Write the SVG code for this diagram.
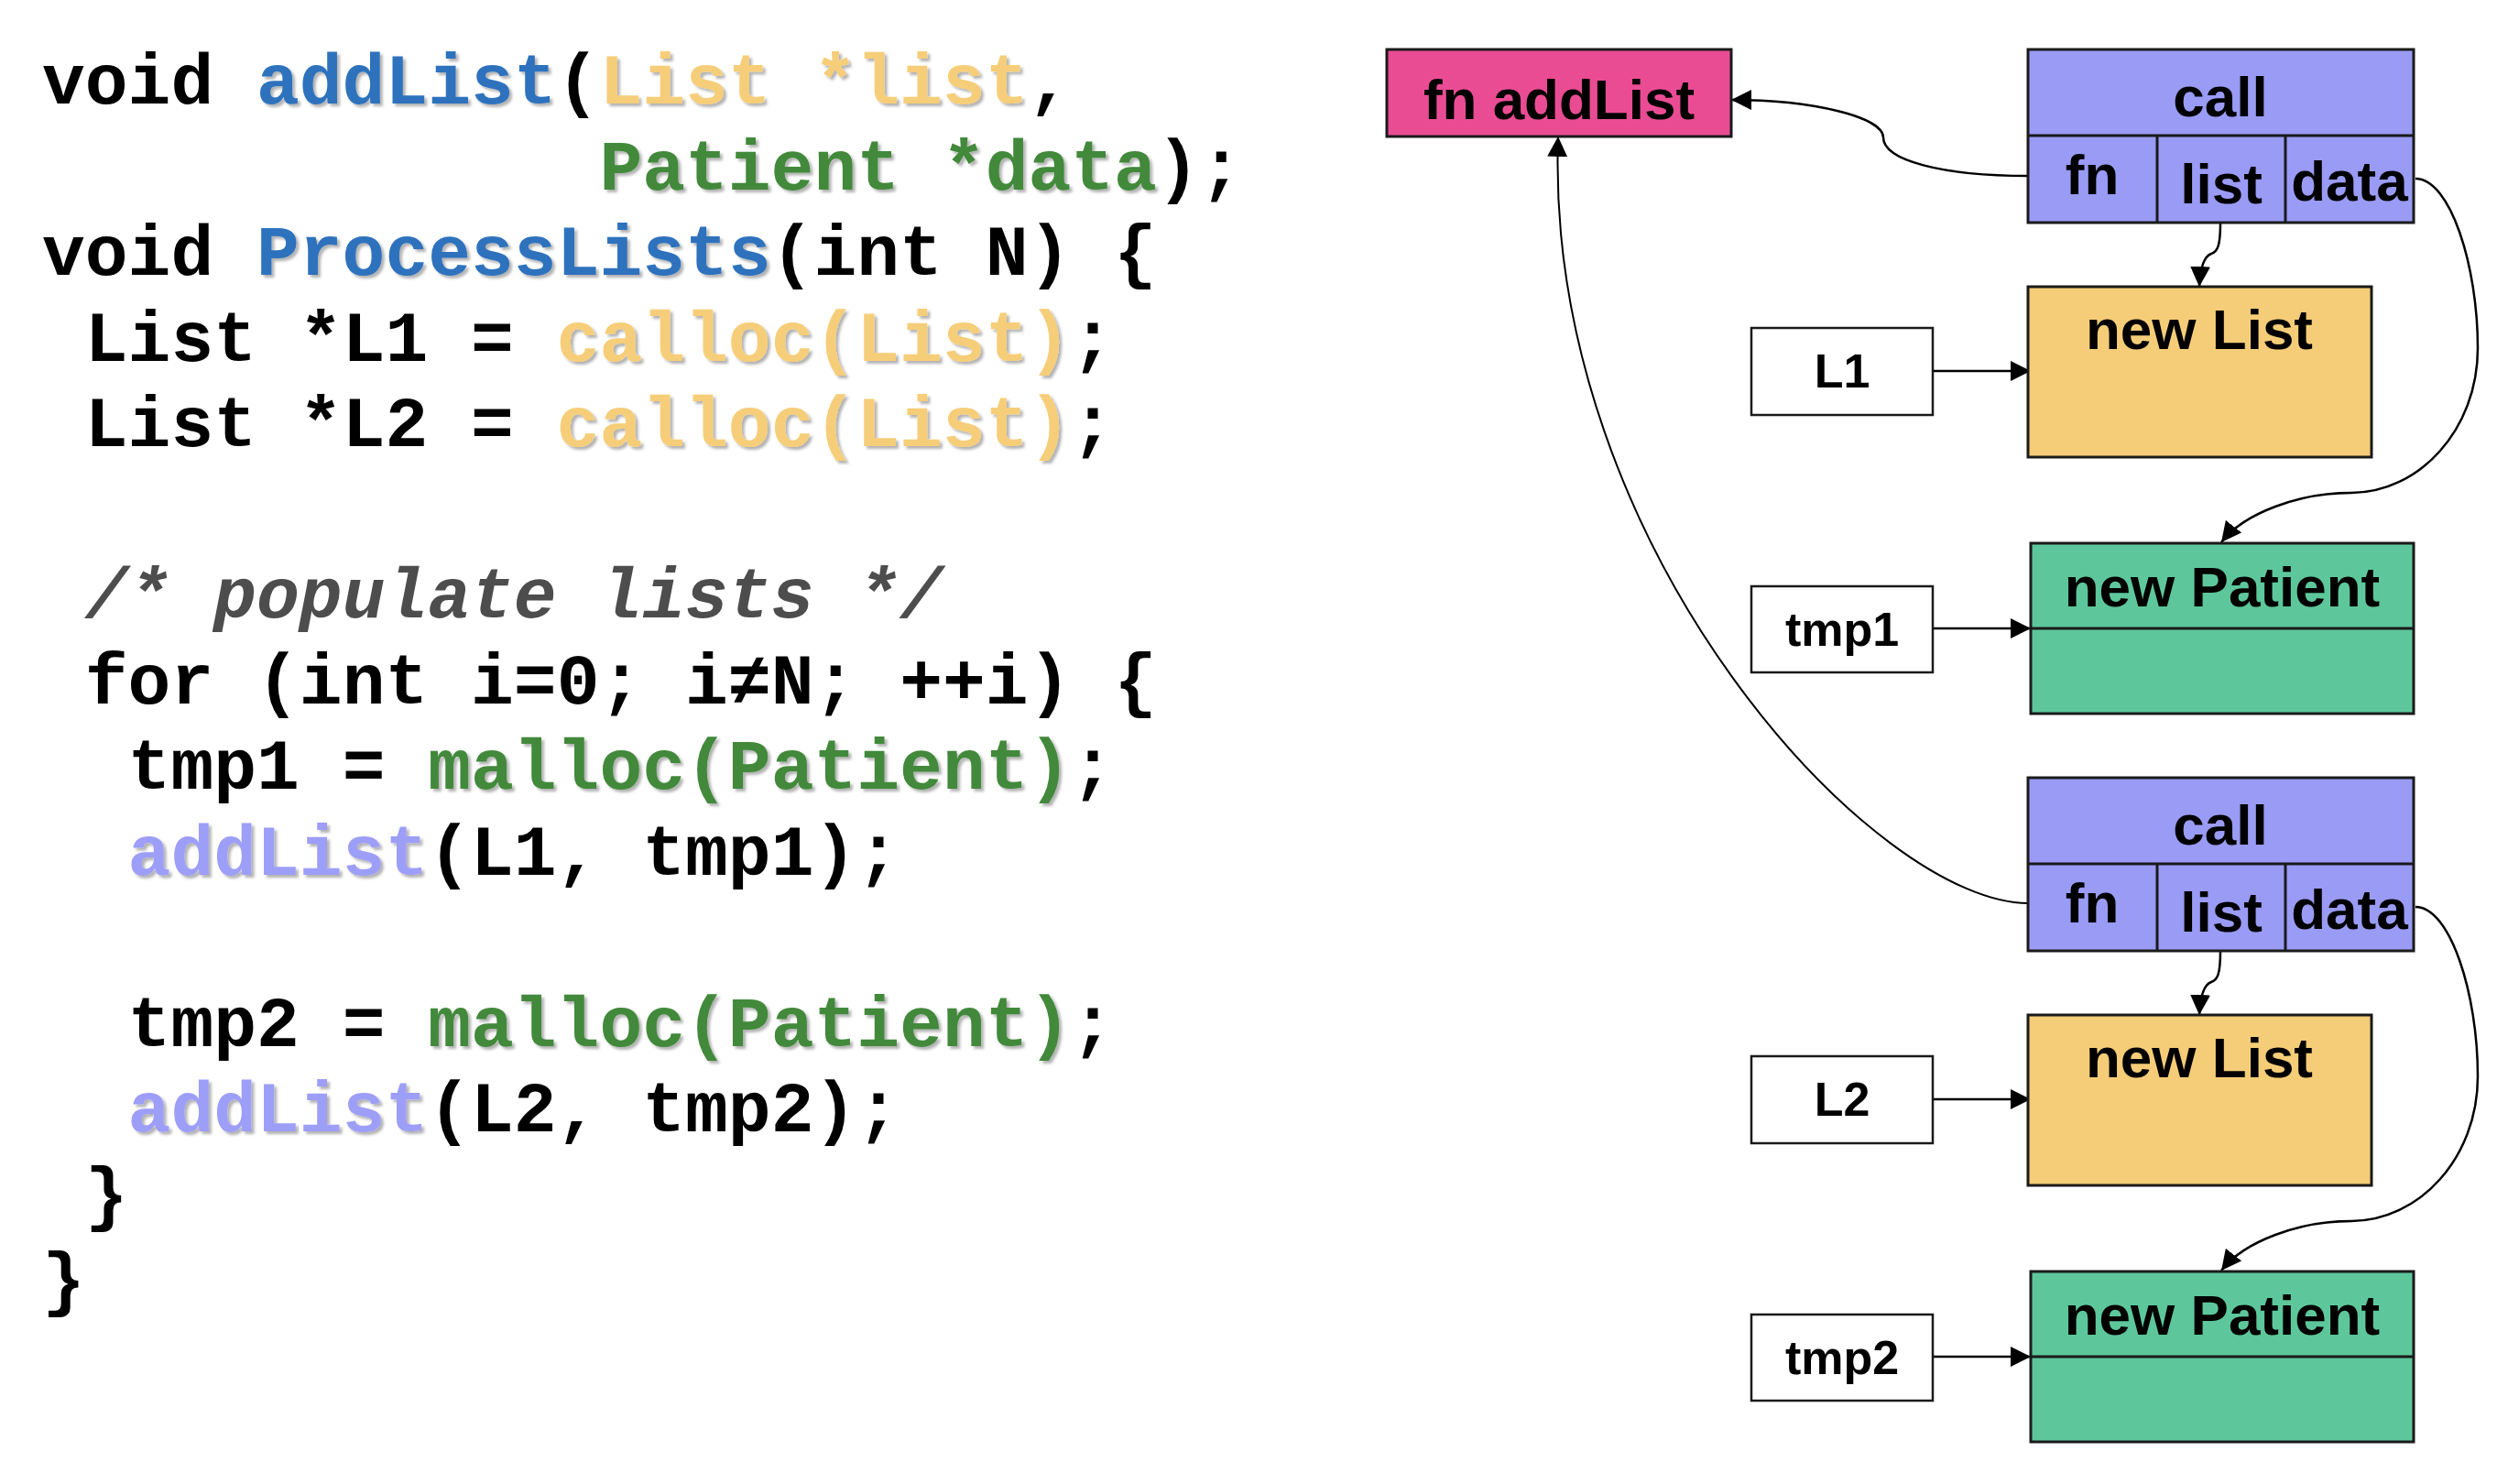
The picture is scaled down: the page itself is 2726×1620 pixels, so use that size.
<svg xmlns="http://www.w3.org/2000/svg" width="2726" height="1620" viewBox="0 0 2726 1620">
<defs>
<style>
.code{font-family:"Liberation Mono","Courier New",monospace;font-weight:bold;font-size:78px;fill:#000}
.blue{fill:#2e72bd}
.yel{fill:#f6cd79}
.grn{fill:#42893b}
.lav{fill:#9d9ef7}
.cmt{fill:#4d4d4d;font-style:italic}
.lbl{font-family:"Liberation Sans",Arial,sans-serif;font-weight:bold;font-size:62px;fill:#000;text-anchor:middle}
.sm{font-size:52px}
.box{stroke:#1a1a1a;stroke-width:3}
.var{fill:#fff;stroke:#1a1a1a;stroke-width:2.5}
.edge{fill:none;stroke:#000;stroke-width:2.5}
.thin{stroke-width:2}
</style>
<filter id="sh" x="-5%" y="-20%" width="110%" height="140%">
<feDropShadow dx="3" dy="3" stdDeviation="1.5" flood-color="#000" flood-opacity="0.3"/>
</filter>
<marker id="ah" viewBox="0 0 22 22" refX="22" refY="11" markerWidth="22" markerHeight="22" orient="auto" markerUnits="userSpaceOnUse">
<path d="M0,0 L22,11 L0,22 z" fill="#000"/>
</marker>
</defs>
<rect width="2726" height="1620" fill="#fff"/>

<g id="code">
<text class="code" x="46" y="113">void</text>
<text class="code blue" filter="url(#sh)" x="280" y="113">addList</text>
<text class="code" x="607.6" y="113">(</text>
<text class="code yel" filter="url(#sh)" x="654.4" y="113">List *list</text>
<text class="code" x="1122.4" y="113">,</text>

<text class="code grn" filter="url(#sh)" x="654.4" y="206.5">Patient *data</text>
<text class="code" x="1262.8" y="206.5">);</text>

<text class="code" x="46" y="300">void</text>
<text class="code blue" filter="url(#sh)" x="280" y="300">ProcessLists</text>
<text class="code" x="841.6" y="300">(int N) {</text>

<text class="code" x="92.8" y="393.5">List *L1 =</text>
<text class="code yel" filter="url(#sh)" x="607.6" y="393.5">calloc(List)</text>
<text class="code" x="1169.2" y="393.5">;</text>

<text class="code" x="92.8" y="487">List *L2 =</text>
<text class="code yel" filter="url(#sh)" x="607.6" y="487">calloc(List)</text>
<text class="code" x="1169.2" y="487">;</text>

<text class="code cmt" x="92.8" y="674">/* populate lists */</text>
<text class="code" x="92.8" y="767.5">for (int i=0; i≠N; ++i) {</text>

<text class="code" x="139.6" y="861">tmp1 =</text>
<text class="code grn" filter="url(#sh)" x="467.2" y="861">malloc(Patient)</text>
<text class="code" x="1169.2" y="861">;</text>

<text class="code lav" filter="url(#sh)" x="139.6" y="954.5">addList</text>
<text class="code" x="467.2" y="954.5">(L1, tmp1);</text>

<text class="code" x="139.6" y="1141.5">tmp2 =</text>
<text class="code grn" filter="url(#sh)" x="467.2" y="1141.5">malloc(Patient)</text>
<text class="code" x="1169.2" y="1141.5">;</text>

<text class="code lav" filter="url(#sh)" x="139.6" y="1235">addList</text>
<text class="code" x="467.2" y="1235">(L2, tmp2);</text>

<text class="code" x="92.8" y="1328.5">}</text>
<text class="code" x="46" y="1422">}</text>
</g>

<g id="connectors">
<path class="edge" d="M2214,192 C2120,192 2056,175 2056,150 C2056,128 1980,109 1890,109" marker-end="url(#ah)"/>
<path class="edge" d="M2424,243 C2424,268 2421,275 2414,277 C2406,280 2402,292 2401,313" marker-end="url(#ah)"/>
<path class="edge" d="M2637,195 C2675,195 2705,290 2705,380 C2705,470 2640,538 2567,538 C2510,538 2450,560 2425,592" marker-end="url(#ah)"/>
<path class="edge" d="M2110,405 L2217,405" marker-end="url(#ah)"/>
<path class="edge" d="M2110,686 L2217,686" marker-end="url(#ah)"/>
<path class="edge thin" d="M2217,986 C2050,990 1685,600 1701,149" marker-end="url(#ah)"/>
<path class="edge" d="M2424,1038 C2424,1063 2421,1070 2414,1072 C2406,1075 2402,1087 2401,1108" marker-end="url(#ah)"/>
<path class="edge" d="M2637,990 C2675,990 2705,1085 2705,1175 C2705,1265 2640,1333 2567,1333 C2510,1333 2450,1355 2425,1387" marker-end="url(#ah)"/>
<path class="edge" d="M2110,1200 L2217,1200" marker-end="url(#ah)"/>
<path class="edge" d="M2110,1481 L2217,1481" marker-end="url(#ah)"/>
</g>

<g id="fn-addList">
<rect class="box" x="1514" y="54" width="376" height="95" fill="#ea4c94"/>
<text class="lbl" x="1702" y="130">fn addList</text>
</g>

<g id="call1">
<rect class="box" x="2214" y="54" width="421" height="189" fill="#999bf5"/>
<path class="box" d="M2214,148 H2635 M2355,148 V243 M2495,148 V243" fill="none"/>
<text class="lbl" x="2424" y="127">call</text>
<text class="lbl" x="2284" y="212">fn</text>
<text class="lbl" x="2425" y="222">list</text>
<text class="lbl" x="2565" y="219">data</text>
</g>

<g id="newList1">
<rect class="box" x="2214" y="313" width="375" height="186" fill="#f5cd78"/>
<text class="lbl" x="2401" y="381">new List</text>
</g>

<g id="L1">
<rect class="var" x="1912" y="358" width="198" height="95"/>
<text class="lbl sm" x="2011" y="423">L1</text>
</g>

<g id="newPatient1">
<rect class="box" x="2217" y="593" width="418" height="186" fill="#5dc79b"/>
<path class="box" d="M2217,686 H2635" fill="none"/>
<text class="lbl" x="2426" y="662">new Patient</text>
</g>

<g id="tmp1">
<rect class="var" x="1912" y="640" width="198" height="94"/>
<text class="lbl sm" x="2011" y="705">tmp1</text>
</g>

<g id="call2">
<rect class="box" x="2214" y="849" width="421" height="189" fill="#999bf5"/>
<path class="box" d="M2214,943 H2635 M2355,943 V1038 M2495,943 V1038" fill="none"/>
<text class="lbl" x="2424" y="922">call</text>
<text class="lbl" x="2284" y="1007">fn</text>
<text class="lbl" x="2425" y="1017">list</text>
<text class="lbl" x="2565" y="1014">data</text>
</g>

<g id="newList2">
<rect class="box" x="2214" y="1108" width="375" height="186" fill="#f5cd78"/>
<text class="lbl" x="2401" y="1176">new List</text>
</g>

<g id="L2">
<rect class="var" x="1912" y="1153" width="198" height="95"/>
<text class="lbl sm" x="2011" y="1218">L2</text>
</g>

<g id="newPatient2">
<rect class="box" x="2217" y="1388" width="418" height="186" fill="#5dc79b"/>
<path class="box" d="M2217,1481 H2635" fill="none"/>
<text class="lbl" x="2426" y="1457">new Patient</text>
</g>

<g id="tmp2">
<rect class="var" x="1912" y="1435" width="198" height="94"/>
<text class="lbl sm" x="2011" y="1500">tmp2</text>
</g>
</svg>
